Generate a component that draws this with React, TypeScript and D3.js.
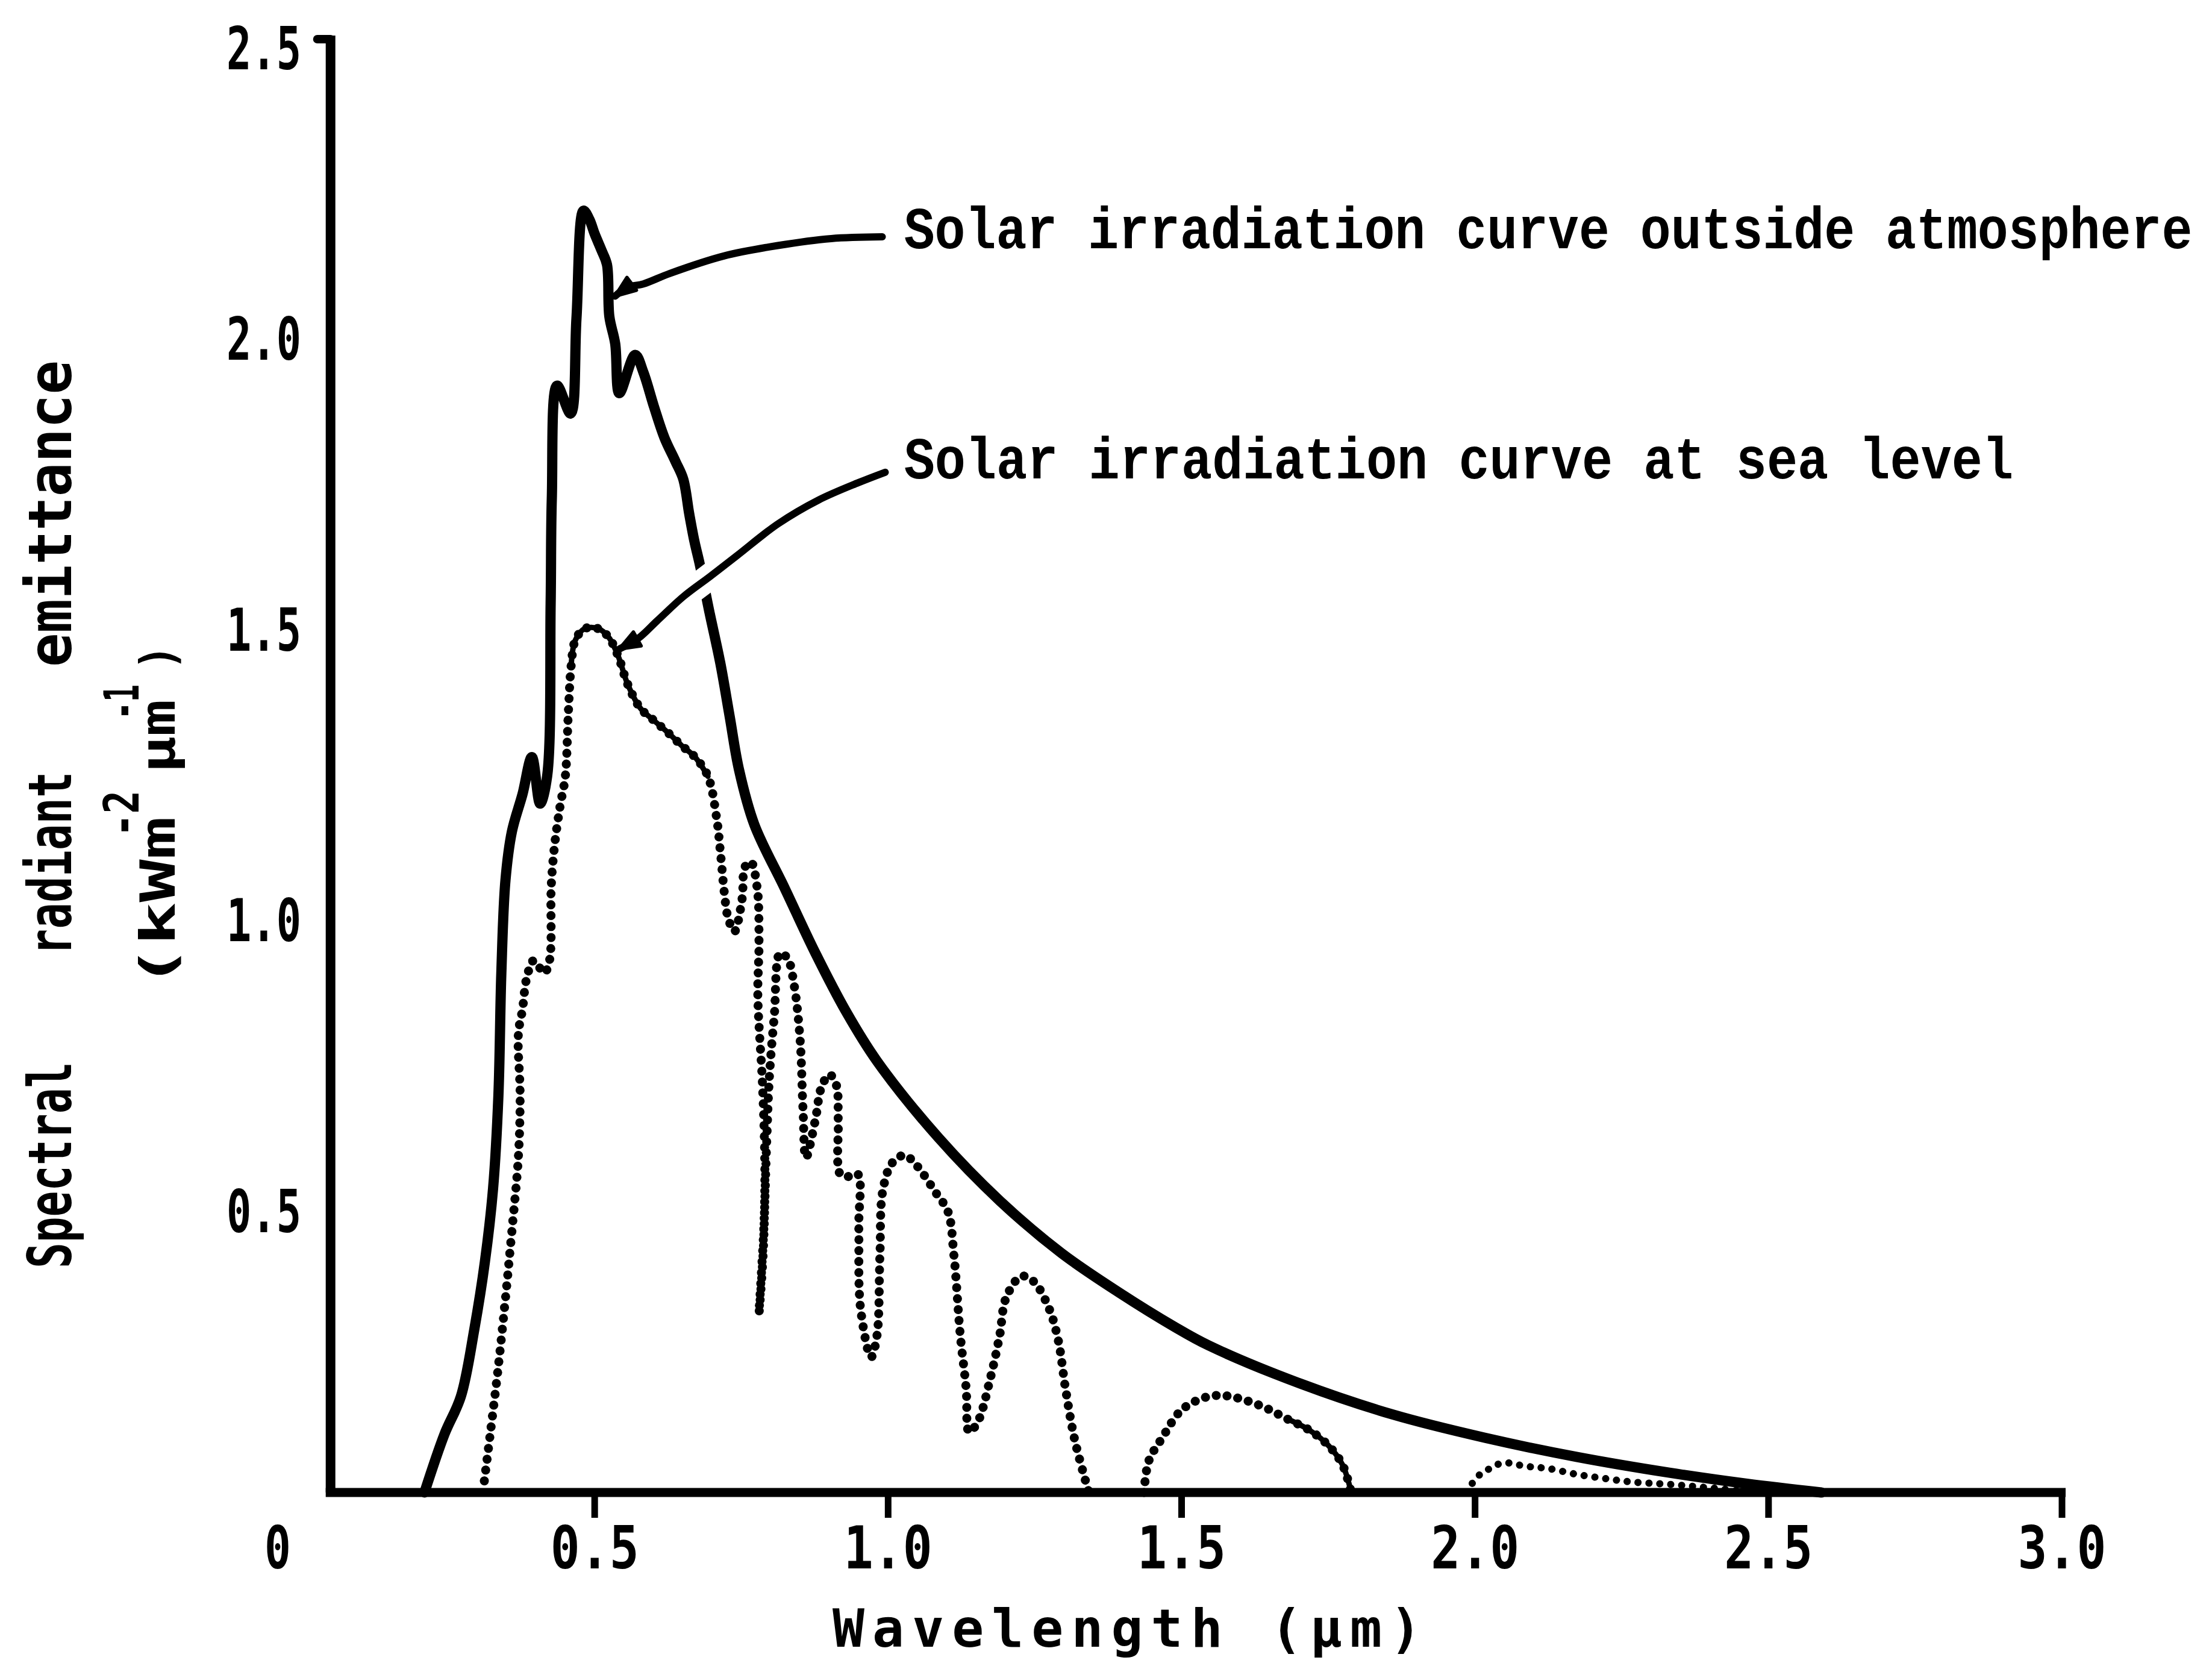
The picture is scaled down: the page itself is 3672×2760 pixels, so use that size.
import * as d3 from 'd3';

type Pt = [number, number];

// wavelength (µm), spectral emittance (kW m-2 µm-1)
const outsideAtmosphere: Pt[] = [
  [0.21, 0.0], [0.244, 0.1], [0.272, 0.165], [0.295, 0.281], [0.313, 0.397],
  [0.327, 0.524], [0.336, 0.683], [0.341, 0.894], [0.348, 1.053], [0.359, 1.137],
  [0.377, 1.201], [0.393, 1.265], [0.407, 1.185], [0.419, 1.232], [0.425, 1.529],
  [0.427, 1.71], [0.436, 1.904], [0.459, 1.856], [0.469, 2.02], [0.481, 2.205],
  [0.491, 2.19], [0.5, 2.165], [0.512, 2.136], [0.521, 2.112], [0.525, 2.023],
  [0.535, 1.976], [0.542, 1.891], [0.569, 1.957], [0.583, 1.927], [0.601, 1.868],
  [0.619, 1.814], [0.638, 1.773], [0.651, 1.743], [0.661, 1.684], [0.67, 1.636],
  [0.679, 1.597], [0.695, 1.517], [0.714, 1.427], [0.73, 1.335], [0.746, 1.243],
  [0.772, 1.149], [0.824, 1.039], [0.876, 0.928], [0.929, 0.826], [0.981, 0.742],
  [1.086, 0.61], [1.19, 0.502], [1.295, 0.412], [1.395, 0.343], [1.488, 0.285],
  [1.546, 0.253], [1.703, 0.187], [1.86, 0.134], [2.017, 0.094], [2.174, 0.061],
  [2.331, 0.034], [2.463, 0.015], [2.59, 0.0],
];

const seaLevelVisible: Pt[] = [
  [0.312, 0.02], [0.322, 0.1], [0.336, 0.218], [0.348, 0.334], [0.359, 0.45],
  [0.37, 0.577], [0.373, 0.683], [0.37, 0.789], [0.377, 0.831], [0.384, 0.884],
  [0.396, 0.915], [0.414, 0.894], [0.423, 0.915], [0.426, 1.043], [0.432, 1.116],
  [0.441, 1.18], [0.45, 1.232], [0.455, 1.338], [0.46, 1.423], [0.467, 1.466],
  [0.483, 1.486], [0.506, 1.486], [0.524, 1.471], [0.54, 1.439], [0.556, 1.391],
  [0.578, 1.349], [0.601, 1.328], [0.625, 1.307], [0.648, 1.285], [0.671, 1.265],
  [0.693, 1.232], [0.708, 1.159], [0.714, 1.104], [0.721, 1.031], [0.727, 0.99],
  [0.738, 0.965], [0.751, 1.02], [0.756, 1.076], [0.766, 1.085], [0.777, 1.039],
  [0.78, 0.946], [0.778, 0.853], [0.786, 0.7], [0.79, 0.55], [0.787, 0.41],
  [0.78, 0.308], [0.788, 0.45], [0.793, 0.6], [0.798, 0.72], [0.806, 0.82],
  [0.816, 0.928], [0.829, 0.918], [0.84, 0.872], [0.85, 0.779], [0.855, 0.659],
  [0.86, 0.576], [0.876, 0.641], [0.886, 0.696], [0.9, 0.719], [0.912, 0.7],
  [0.915, 0.641], [0.918, 0.548], [0.929, 0.543], [0.948, 0.548], [0.95, 0.456],
  [0.953, 0.317], [0.971, 0.233], [0.981, 0.27], [0.986, 0.409], [0.991, 0.52],
  [1.007, 0.567], [1.028, 0.58], [1.049, 0.562], [1.081, 0.516], [1.102, 0.483],
  [1.112, 0.409], [1.123, 0.27], [1.133, 0.178], [1.138, 0.104], [1.153, 0.122],
  [1.174, 0.196], [1.19, 0.27], [1.201, 0.335], [1.227, 0.372], [1.248, 0.363],
  [1.274, 0.317], [1.29, 0.261], [1.302, 0.18], [1.318, 0.09], [1.342, 0.0],
];

const seaLevelIR1: Pt[] = [
  [1.436, 0.0], [1.444, 0.054], [1.467, 0.094], [1.498, 0.14], [1.53, 0.16],
  [1.561, 0.167], [1.593, 0.163], [1.64, 0.147], [1.679, 0.127], [1.718, 0.107],
  [1.75, 0.081], [1.774, 0.048], [1.789, 0.0],
];

const seaLevelIR2: Pt[] = [
  [1.985, 0.0], [2.005, 0.028], [2.025, 0.041], [2.048, 0.051], [2.087, 0.045],
  [2.126, 0.041], [2.174, 0.031], [2.221, 0.024], [2.268, 0.018], [2.331, 0.014],
  [2.41, 0.007], [2.45, 0.003],
];

const xTicks = [0.5, 1.0, 1.5, 2.0, 2.5, 3.0];
const xTickLabels = ['0.5', '1.0', '1.5', '2.0', '2.5', '3.0'];
const yTicks = [0.5, 1.0, 1.5, 2.0, 2.5];
const yTickLabels = ['0.5', '1.0', '1.5', '2.0', '2.5'];

// annotation leaders, in data units, running from the label to the curve
const leaderOutside: Pt[] = [
  [0.99, 2.16], [0.903, 2.157], [0.812, 2.145], [0.72, 2.127], [0.628, 2.097],
  [0.583, 2.079], [0.555, 2.073], [0.535, 2.058],
];
const leaderSeaLevel: Pt[] = [
  [0.995, 1.755], [0.949, 1.737], [0.881, 1.707], [0.812, 1.666], [0.743, 1.612],
  [0.697, 1.576], [0.651, 1.541], [0.606, 1.499], [0.574, 1.469], [0.542, 1.451],
];
const labelOutside = 'Solar irradiation curve outside atmosphere';
const labelSeaLevel = 'Solar irradiation curve at sea level';

const W = 3672;
const H = 2760;
const INK = '#000';
const MONO = '"DejaVu Sans Mono", monospace';
const TYPE = '"Liberation Mono", "DejaVu Sans Mono", monospace';

export default function App() {
  const x = d3.scaleLinear().domain([0, 3]).range([500, 3423]);
  const y = d3.scaleLinear().domain([0, 2.5]).range([2477, 65]);
  const yAxisAt = 0.05;

  const curve = d3.line<Pt>()
    .x(d => x(d[0]))
    .y(d => y(d[1]))
    .curve(d3.curveCatmullRom.alpha(0.5));

  const arrowHead = (pts: Pt[]) => {
    const [tx, ty] = [x(pts[pts.length - 1][0]), y(pts[pts.length - 1][1])];
    const [px, py] = [x(pts[pts.length - 2][0]), y(pts[pts.length - 2][1])];
    const a = Math.atan2(ty - py, tx - px);
    const len = 34, hw = 13;
    const bx = tx - len * Math.cos(a), by = ty - len * Math.sin(a);
    const nx = -Math.sin(a) * hw, ny = Math.cos(a) * hw;
    return `M${tx},${ty}L${bx + nx},${by + ny}L${bx - nx},${by - ny}Z`;
  };

  const x0 = x(yAxisAt);
  const yBase = y(0);
  const labelStart = 1.027;

  return (
    <svg width={W} height={H} style={{ position: 'absolute', left: 0, top: 0, background: '#fff' }}>
      <rect width={W} height={H} fill="#fff" />

      {/* axes */}
      <line x1={x0} x2={x0} y1={yBase} y2={y(2.5) - 6} stroke={INK} strokeWidth={16} />
      <line x1={x0 - 22} x2={x0} y1={y(2.5)} y2={y(2.5)} stroke={INK} strokeWidth={14} strokeLinecap="round" />
      <line x1={x0 - 8} x2={x(3.0) + 6} y1={yBase} y2={yBase} stroke={INK} strokeWidth={15} />
      {xTicks.map(t => (
        <line key={t} x1={x(t)} x2={x(t)} y1={yBase} y2={yBase + 42} stroke={INK} strokeWidth={11} />
      ))}

      {/* tick labels */}
      <g fontFamily={MONO} fontWeight="bold" fontSize={98} fill={INK}>
        {xTicks.map((t, i) => (
          <text key={t} x={x(t)} y={yBase + 126} textAnchor="middle"
            textLength={147} lengthAdjust="spacingAndGlyphs">{xTickLabels[i]}</text>
        ))}
        <text x={x(-0.04)} y={yBase + 126} textAnchor="middle"
          textLength={44} lengthAdjust="spacingAndGlyphs">0</text>
        {yTicks.map((t, i) => (
          <text key={t} x={500} y={y(t) + 50} textAnchor="end"
            textLength={124} lengthAdjust="spacingAndGlyphs">{yTickLabels[i]}</text>
        ))}
      </g>

      {/* axis titles */}
      <text x={1382} y={2733} fontFamily={MONO} fontWeight="bold" fontSize={88} fill={INK}
        textLength={978} lengthAdjust="spacing">Wavelength (μm)</text>
      <text transform="translate(118,2105) rotate(-90)" fontFamily={MONO} fontWeight="bold"
        fontSize={100} fill={INK}>
        <tspan x={0} textLength={385} lengthAdjust="spacingAndGlyphs">Spectral </tspan>
        <tspan x={520} textLength={348} lengthAdjust="spacingAndGlyphs">radiant </tspan>
        <tspan x={998} textLength={509} lengthAdjust="spacingAndGlyphs">emittance</tspan>
      </text>
      <text transform="translate(290,1640) rotate(-90)" fontFamily={MONO} fontWeight="bold"
        fontSize={80} fill={INK}>
        <tspan x={0} textLength={285} lengthAdjust="spacingAndGlyphs">(kWm</tspan>
        <tspan x={251} dy={-60} textLength={77} lengthAdjust="spacingAndGlyphs">-2</tspan>
        <tspan x={357} dy={60} textLength={122} lengthAdjust="spacingAndGlyphs">μm</tspan>
        <tspan x={446} dy={-60} textLength={58} lengthAdjust="spacingAndGlyphs">-1</tspan>
        <tspan x={528} dy={60} textLength={42} lengthAdjust="spacingAndGlyphs">)</tspan>
      </text>

      {/* outside atmosphere */}
      <path d={curve(outsideAtmosphere) ?? ''} fill="none" stroke={INK} strokeWidth={17}
        strokeLinejoin="round" strokeLinecap="round" />

      {/* leaders */}
      <path d={curve(leaderSeaLevel.filter(d => d[0] >= 0.64 && d[0] <= 0.76)) ?? ''}
        fill="none" stroke="#fff" strokeWidth={44} />
      {[leaderOutside, leaderSeaLevel].map((pts, i) => (
        <g key={i}>
          <path d={curve(pts) ?? ''} fill="none" stroke={INK} strokeWidth={12} strokeLinecap="round" />
          <path d={arrowHead(pts)} fill={INK} stroke={INK} strokeWidth={6} strokeLinejoin="round" />
        </g>
      ))}

      {/* at sea level: dotted, with the denser stretches drawn through */}
      <path d={curve(seaLevelVisible.filter(d => d[0] >= 0.46 && d[0] <= 0.7)) ?? ''}
        fill="none" stroke={INK} strokeWidth={9} strokeLinecap="round" />
      <path d={curve(seaLevelIR1.filter(d => d[0] >= 1.67)) ?? ''}
        fill="none" stroke={INK} strokeWidth={9} strokeLinecap="round" />
      {[seaLevelVisible, seaLevelIR1].map((pts, i) => (
        <path key={i} d={curve(pts) ?? ''} fill="none" stroke={INK} strokeWidth={15}
          strokeDasharray="0.1 18" strokeLinecap="round" />
      ))}
      <path d={curve(seaLevelIR2) ?? ''} fill="none" stroke={INK} strokeWidth={12}
        strokeDasharray="0.1 18" strokeLinecap="round" />

      {/* labels: typewriter face, stretched a little upright */}
      <g fontFamily={TYPE} fontWeight="bold" fontSize={84} fill={INK}>
        <g transform={`translate(${x(labelStart)},${y(2.14)}) scale(1,1.18)`}>
          <text x={0} y={0} textLength={x(3.222) - x(labelStart)}
            lengthAdjust="spacingAndGlyphs">{labelOutside}</text>
        </g>
        <g transform={`translate(${x(labelStart)},${y(1.744)}) scale(1,1.18)`}>
          <text x={0} y={0} textLength={x(2.917) - x(labelStart)}
            lengthAdjust="spacingAndGlyphs">{labelSeaLevel}</text>
        </g>
      </g>
    </svg>
  );
}
